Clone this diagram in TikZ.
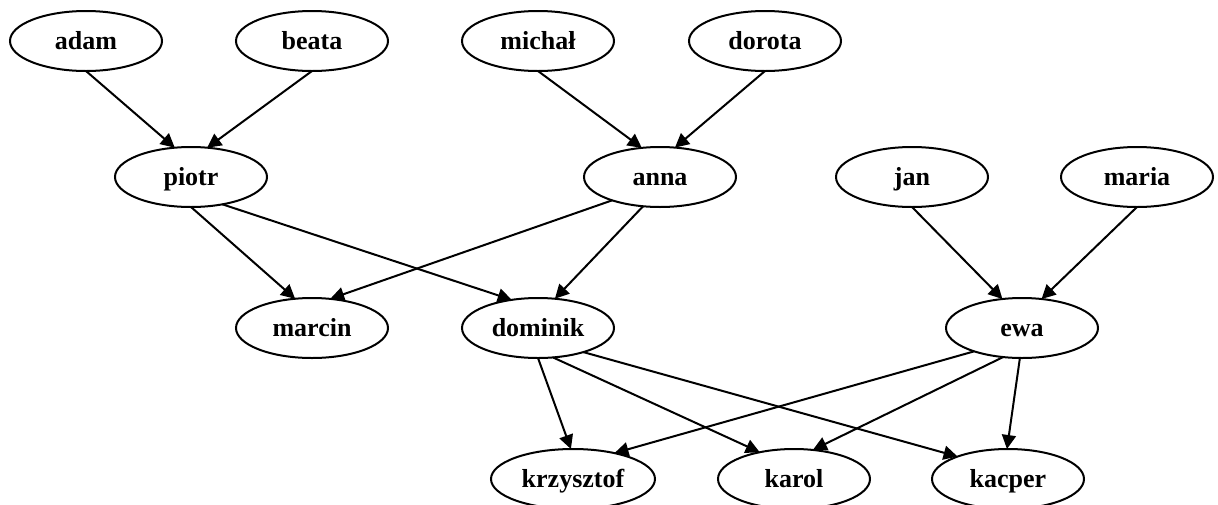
\documentclass[tikz,border=0pt]{standalone}
\usepackage{fontspec}
\setmainfont{Liberation Serif}
\usetikzlibrary{shapes.geometric,arrows.meta}
\begin{document}
\begin{tikzpicture}[x=0.75pt,y=-0.75pt,
  person/.style={ellipse,draw,line width=1.5pt,minimum width=114pt,minimum height=45pt,inner sep=0pt,outer sep=0pt,text height=14pt,text depth=2pt,font=\fontsize{19.5}{22}\selectfont\bfseries},
  wide/.style={minimum width=123pt},
  link/.style={line width=1.5pt,-{Triangle[length=10.5pt,width=10.5pt]}}]
\useasboundingbox (0,0) rectangle (1218,504);
\node[person] (adam) at (86,41) {adam};
\node[person] (beata) at (312,41) {beata};
\node[person] (michal) at (538,41) {michał};
\node[person] (dorota) at (765,41) {dorota};
\node[person] (piotr) at (191,177) {piotr};
\node[person] (anna) at (660,177) {anna};
\node[person] (jan) at (912,177) {jan};
\node[person] (maria) at (1137,177) {maria};
\node[person] (marcin) at (312,328) {marcin};
\node[person] (dominik) at (538,328) {dominik};
\node[person] (ewa) at (1022,328) {ewa};
\node[person,wide] (krzysztof) at (573,479) {krzysztof};
\node[person] (karol) at (794,479) {karol};
\node[person] (kacper) at (1008,479) {kacper};
\draw[link] (adam.south) -- (piotr.119);
\draw[link] (beata.south) -- (piotr.61);
\draw[link] (michal.south) -- (anna.122);
\draw[link] (dorota.south) -- (anna.63);
\draw[link] (piotr.south) -- (marcin.120);
\draw[link] (piotr.-41.5) -- (dominik.133);
\draw[link] (anna.206.7) -- (marcin.58);
\draw[link] (anna.-120) -- (dominik.60);
\draw[link] (jan.south) -- (ewa.124);
\draw[link] (maria.south) -- (ewa.56);
\draw[link] (dominik.south) -- (krzysztof.94);
\draw[link] (dominik.-63) -- (karol.142);
\draw[link] (dominik.-28.3) -- (kacper.156);
\draw[link] (ewa.-154) -- (krzysztof.32);
\draw[link] (ewa.-123) -- (karol.57);
\draw[link] (ewa.-94) -- (kacper.92);
\end{tikzpicture}
\end{document}
